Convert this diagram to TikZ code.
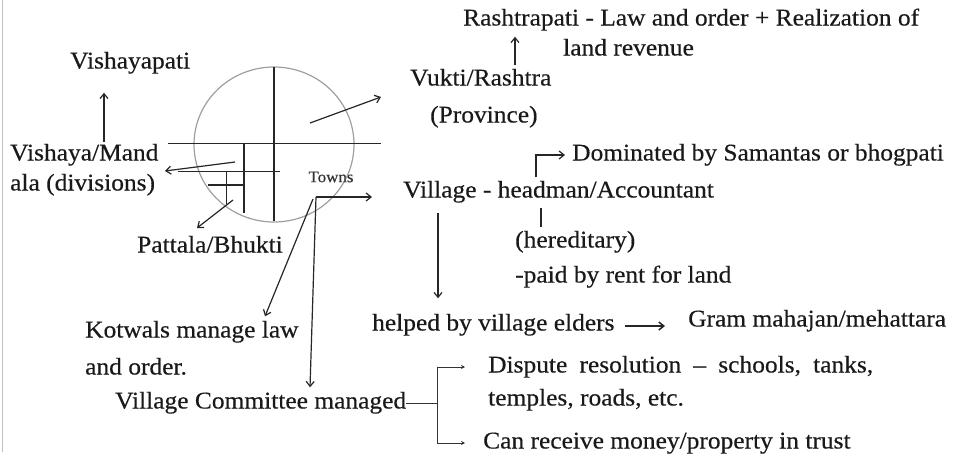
\documentclass[tikz,border=0pt]{standalone}
\usepackage{fontspec}
\setmainfont{Liberation Serif}[FakeStretch=1.06,FakeBold=0.4]
\usetikzlibrary{arrows.meta,positioning}

\newcommand{\notesize}{\fontsize{24}{28}\selectfont}
\newcommand{\townsize}{\fontsize{16}{18}\selectfont}

\begin{document}
\begin{tikzpicture}[x=1pt,y=-1pt,
    note/.style={font=\notesize,text=black!90,inner sep=0pt,text height=16pt,text depth=5pt,anchor=west},
    arr/.style={-{Straight Barb[length=5pt,width=8pt]},line width=1.2pt,black!85},
    tinyarr/.style={-{Stealth[length=4pt,width=4pt]},line width=0.9pt,black!80},
    grid/.style={line width=1.4pt,black!85}]
    \useasboundingbox (0,0) rectangle (966,458);
    \draw[gray!50,line width=1pt] (2,0) -- (2,452);

    % the realm as a circle cut into parts
    \draw[gray!75,line width=1.2pt] (274,144.5) ellipse [x radius=80pt,y radius=77.5pt];
    \draw[grid] (274,67) -- (274,221);
    \draw[grid] (168,143.5) -- (381,143.5);
    \draw[grid] (244,143.5) -- (244,213);
    \draw[grid] (178,171.5) -- (280,171.5);
    \draw[grid] (226.5,171.5) -- (226.5,204);
    \draw[grid] (208,185) -- (244,185);

    \node[note] (rash1) at (463,20) {Rashtrapati - Law and order + Realization of};
    \node[note] (rash2) at (563,50) {land revenue};
    \node[note] (vukti1) at (410,80) {Vukti/Rashtra};
    \node[note] (vukti2) at (430,117) {(Province)};
    \node[note] (vpati) at (70,63) {Vishayapati};
    \node[note] (vish1) at (10,155) {Vishaya/Mand};
    \node[note] (vish2) at (10,185) {ala (divisions)};
    \node[note] (pattala) at (137,247) {Pattala/Bhukti};
    \node[font=\townsize,text=black!80,inner sep=0pt] (towns) at (331,177) {Towns};
    \node[note] (village) at (403,192) {Village - headman/Accountant};
    \node[note] (dominated) at (572,155) {Dominated by Samantas or bhogpati};
    \node[note] (hered) at (515,242) {(hereditary)};
    \node[note] (paid) at (515,277) {-paid by rent for land};
    \node[note] (helped) at (372,325) {helped by village elders};
    \node[note] (gram) at (688,321) {Gram mahajan/mehattara};
    \node[note] (kotwal1) at (85,332) {Kotwals manage law};
    \node[note] (kotwal2) at (85,369) {and order.};
    \node[note] (committee) at (115,403) {Village Committee managed};
    \node[note] (dispute1) at (488,367) {\hbox to 385pt{Dispute\hfill resolution\hfill –\hfill schools,\hfill tanks,}};
    \node[note] (dispute2) at (488,400) {temples, roads, etc.};
    \node[note] (trust) at (483,443) {Can receive money/property in trust};

    % free ends of the arrows
    \coordinate (upx) at (515,0);
    \coordinate (vpx) at (104,0);
    \coordinate (domx) at (536,0);
    \coordinate (herx) at (541,0);
    \coordinate (downx) at (438,0);
    \coordinate (kotx) at (265,0);
    \coordinate (comx) at (310,0);
    \coordinate (provstart) at (310,123);
    \coordinate (provtip) at (381,97);
    \coordinate (vishstart) at (235,162);
    \coordinate (vishtip) at (165,171);
    \coordinate (patstart) at (233,200);
    \coordinate (pattip) at (197,228);
    \coordinate (townfork) at (316,197);
    \coordinate (towntip) at (372,197);
    \coordinate (comfork) at (437,403);

    \draw[arr] ([yshift=4pt]vukti1.north -| upx) -- ([yshift=-6pt]rash1.south -| upx);
    \draw[arr] ([yshift=2pt]vish1.north -| vpx) -- ([yshift=-19pt]vpati.south -| vpx);
    \draw[arr] (provstart) -- (provtip);
    \draw[arr] (vishstart) -- (vishtip);
    \draw[arr] (patstart) -- (pattip);
    \draw[arr] (townfork) -- (towntip);
    \draw[arr] ([xshift=-3pt,yshift=-2pt]townfork) -- ([yshift=5pt]kotwal1.north -| kotx);
    \draw[arr] (townfork) -- ([yshift=5pt]committee.north -| comx);
    \draw[arr] ([yshift=4pt]village.north -| domx) |- ([xshift=-7pt]dominated.west);
    \draw[line width=1.2pt,black!85] ([yshift=-5pt]village.south -| herx) -- ([yshift=4pt]hered.north -| herx);
    \draw[arr] ([yshift=-10pt]village.south -| downx) -- ([yshift=16pt]helped.north -| downx);
    \draw[arr,line width=1.5pt] ([xshift=10pt,yshift=-1pt]helped.east) -- ([xshift=-23pt,yshift=-5pt]gram.west);
    \draw[line width=0.9pt,black!80] (committee.east) -- (comfork);
    \draw[tinyarr] (comfork) |- ([xshift=-23pt]dispute1.west);
    \draw[tinyarr] (comfork) |- ([xshift=-18pt]trust.west);
\end{tikzpicture}
\end{document}
